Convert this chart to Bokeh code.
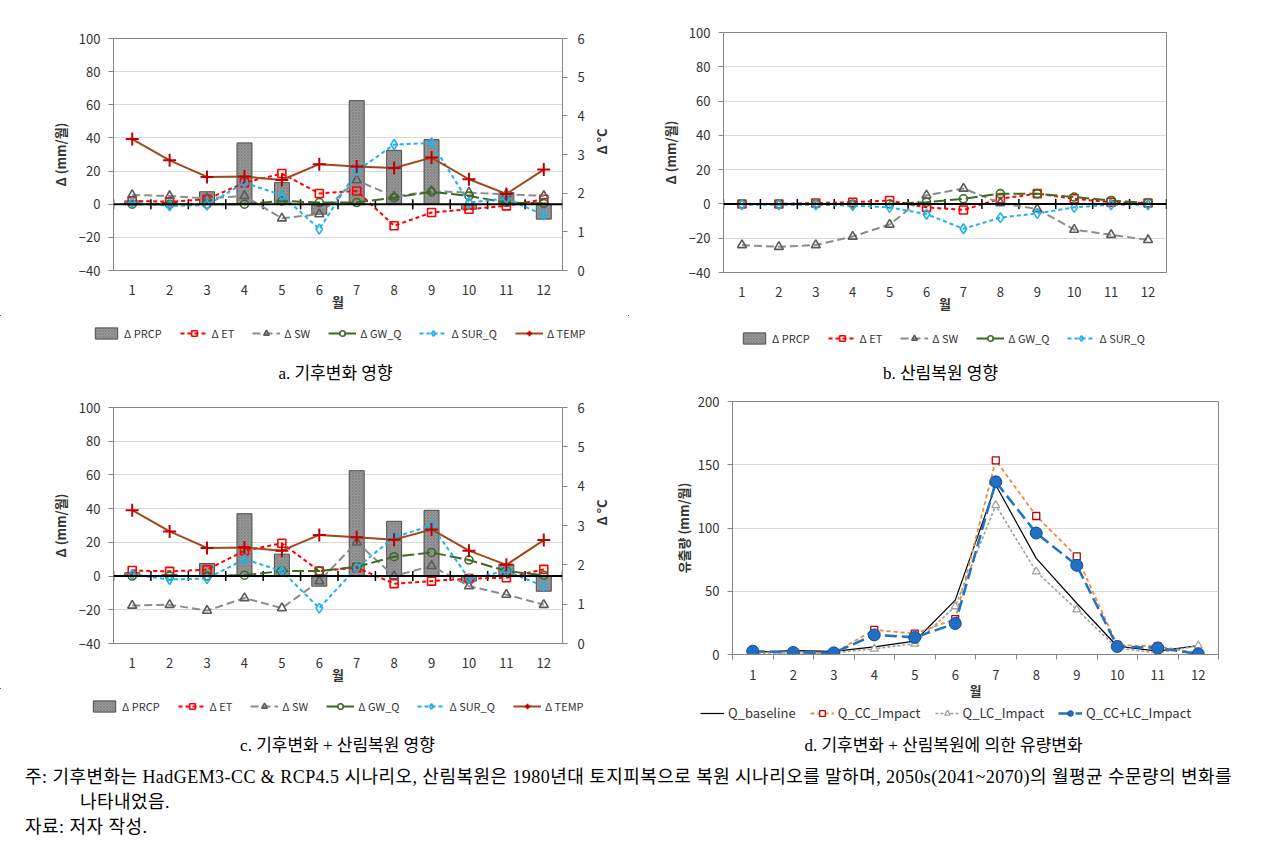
import numpy as np
from bokeh.plotting import figure
from bokeh.models import (Range1d, LinearAxis, Legend, LegendItem, Span, Label,
                          FixedTicker, SingleIntervalTicker, Div)
from bokeh.layouts import column, row
from bokeh.embed import file_html
from bokeh.resources import INLINE

# ---------------- data ----------------
months = [1, 2, 3, 4, 5, 6, 7, 8, 9, 10, 11, 12]

# a. climate change impact
prcp_a = [2, 1, 7.5, 37, 13, -6, 62.5, 32.5, 39, -3, 7, -9]
et_a = [2, 1.5, 3, 13, 18.5, 6.5, 8, -13, -5, -3, -1, 3]
sw_a = [5.5, 5, 3.5, 5, -8.5, -6, 14.5, 4.5, 8, 7, 6, 5]
gw_a = [0, 0, 0, 0, 2, 1, 1, 4, 7.5, 5, 1, 0.5]
sur_a = [1, -1, -0.5, 13, 5.5, -15, 20, 36, 37, 1, 3.5, -6.5]
temp_a = [3.40, 2.85, 2.42, 2.43, 2.34, 2.75, 2.69, 2.65, 2.92, 2.36, 1.98, 2.61]

# b. forest restoration impact
prcp_b = [0, 0, 0, 0, 0, 0, 0, 0, 0, 0, 0, 0]
et_b = [0, 0, 0.5, 1, 2, -2, -3.5, 3, 6, 3, 1, 0.5]
sw_b = [-24, -25, -24, -19, -12, 5, 9, 0.5, -3, -15, -18, -21]
gw_b = [0, 0, 0, 0, 0, 1, 3, 6, 6, 4, 2, 0.5]
sur_b = [-0.5, -0.5, -0.5, -1, -2, -6, -14.5, -8, -5.5, -2, -0.5, -0.5]

# c. climate change + forest restoration
prcp_c = [2, 1, 7.5, 37, 13, -6, 62.5, 32.5, 39, -3, 7, -9]
et_c = [3.3, 2.8, 3.8, 15, 19.5, 3, 5, -4.5, -3, -1.5, -1, 4]
sw_c = [-17.5, -17, -20.5, -13, -19, -3, 20, 0, 6, -6, -11, -17]
gw_c = [0, 0, 0, 0.5, 3, 3, 5.5, 11.5, 14, 9.5, 3, 0.5]
sur_c = [1, -2, -1.5, 10, 3, -19, 5, 23, 30, -1.5, 3, -6]
temp_c = [3.39, 2.85, 2.43, 2.44, 2.36, 2.76, 2.70, 2.64, 2.90, 2.36, 2.00, 2.63]

# d. runoff
q_base = [1.8, 3, 2.5, 6, 10.5, 43, 134, 76, 40.5, 6.5, 2.6, 7]
q_cc = [2, 1.3, 1.3, 19.5, 16.5, 28, 153.5, 109.5, 77.5, 7.5, 6.5, 1]
q_lc = [1, 1.3, 1.3, 4.5, 8.5, 38, 118, 65.5, 35.5, 5, 1.3, 7]
q_cclc = [2.6, 1.6, 1.3, 15.5, 13.5, 24.5, 136.5, 96, 70.5, 6.3, 5.2, 0.5]

hydro_labels = ["Δ PRCP", "Δ ET", "Δ SW", "Δ GW_Q", "Δ SUR_Q", "Δ TEMP"]
q_labels = ["Q_baseline", "Q_CC_Impact", "Q_LC_Impact", "Q_CC+LC_Impact"]

cap_a = "a. 기후변화 영향"
cap_b = "b. 산림복원 영향"
cap_c = "c. 기후변화 + 산림복원 영향"
cap_d = "d. 기후변화 + 산림복원에 의한 유량변화"

SANS = "Noto Sans CJK KR"
SERIF = "'Liberation Serif', 'Noto Sans CJK KR'"
AXC = "#868686"
TXT = "#333333"
STRIP_OFF = 5000  # legend strips view [OFF, OFF+w] x [OFF, OFF+h]; proxy glyphs stay out of view

BAR_STYLE = dict(fill_color="#999999", line_color="#4d4d4d", line_width=1,
                 hatch_pattern="diagonal_cross", hatch_color="#666666",
                 hatch_scale=3, hatch_weight=0.6, hatch_alpha=0.6)
HYDRO_STYLES = [
    (dict(line_color="#ff0000", line_width=2, line_dash="4 3"),
     dict(marker="square", size=8, line_color="#ff0000", fill_color=None, line_width=1.6)),
    (dict(line_color="#8c8c8c", line_width=2, line_dash="8 4"),
     dict(marker="triangle", size=9, line_color="#5a5a5a", fill_color=None, line_width=1.6)),
    (dict(line_color="#3d6b22", line_width=2, line_dash="12 4"),
     dict(marker="circle", size=8, line_color="#3d6b22", fill_color=None, line_width=1.6)),
    (dict(line_color="#1fb2ea", line_width=2, line_dash="4 3"),
     dict(marker="diamond", size=10, line_color="#1fb2ea", fill_color=None, line_width=1.6)),
]
TEMP_STYLE = (dict(line_color="#a0481a", line_width=2),
              dict(marker="cross", size=13, line_color="#c00000", line_width=2))
Q_STYLES = [
    (dict(line_color="black", line_width=1.2), None),
    (dict(line_color="#ef8a3c", line_width=1.8, line_dash="4 3"),
     dict(marker="square", size=7, line_color="#c00000", fill_color="white", line_width=1.3)),
    (dict(line_color="#a0a0a0", line_width=1.6, line_dash="3 2"),
     dict(marker="triangle", size=8, line_color="#a0a0a0", fill_color="white", line_width=1.3)),
    (dict(line_color="#1f72c4", line_width=2.5, line_dash="12 5"),
     dict(marker="circle", size=12, line_color="#1a4f8a", fill_color="#1f6fc5", line_width=1)),
]


def draw(p, x, y, style, **kw):
    ls, ms = style
    rs = [p.line(x, y, **ls, **kw)]
    if ms is not None:
        rs.append(p.scatter(x, y, **ms, **kw))
    return rs


def base_fig(w, h, bl, br, bt, bb, y0, y1, step):
    p = figure(width=w, height=h, min_border_left=bl, min_border_right=br,
               min_border_top=bt, min_border_bottom=bb,
               x_range=Range1d(0.5, 12.5), y_range=Range1d(y0, y1),
               output_backend="svg", toolbar_location=None)
    p.outline_line_color = AXC
    p.background_fill_color = "white"
    p.border_fill_color = "white"
    p.xgrid.visible = False
    tk = SingleIntervalTicker(interval=step)
    ya = p.yaxis[0]
    ya.ticker = tk
    p.ygrid.ticker = tk
    p.ygrid.grid_line_color = "#d9d9d9"
    ya.axis_line_color = AXC
    ya.major_tick_line_color = AXC
    ya.major_tick_out = 5
    ya.major_tick_in = 0
    ya.minor_tick_line_color = None
    ya.major_label_text_font = SANS
    ya.major_label_text_font_size = "13px"
    ya.major_label_text_color = TXT
    ya.major_label_standoff = 8
    ya.axis_label_text_font = SANS
    ya.axis_label_text_font_size = "13px"
    ya.axis_label_text_font_style = "bold"
    ya.axis_label_text_color = TXT
    xa = p.xaxis[0]
    xa.ticker = FixedTicker(ticks=months)
    xa.major_label_text_font = SANS
    xa.major_label_text_font_size = "13px"
    xa.major_label_text_color = TXT
    xa.minor_tick_line_color = None
    xa.axis_label = "월"
    xa.axis_label_text_font = SANS
    xa.axis_label_text_font_size = "13px"
    xa.axis_label_text_font_style = "bold"
    xa.axis_label_text_color = TXT
    return p


def legend_fig(w, h, item_makers, leg_loc, font_size, glyph_w, spacing, caption, cap_xy):
    """Strip below a chart holding its legend and caption."""
    p = figure(width=w, height=h, x_range=Range1d(STRIP_OFF, STRIP_OFF + w),
               y_range=Range1d(STRIP_OFF + h, STRIP_OFF),
               min_border=0, x_axis_location=None, y_axis_location=None,
               output_backend="svg", toolbar_location=None)
    p.outline_line_color = None
    p.grid.visible = False
    p.background_fill_color = "white"
    p.border_fill_color = "white"
    items = [LegendItem(label=lab, renderers=mk(p)) for lab, mk in item_makers]
    p.add_layout(Legend(items=items, orientation="horizontal", location=leg_loc,
                        border_line_color=None, background_fill_alpha=0,
                        label_text_font=SANS, label_text_font_size=font_size,
                        label_text_color=TXT, glyph_width=glyph_w, glyph_height=14,
                        label_height=16, spacing=spacing, label_standoff=4,
                        padding=2, margin=0))
    p.add_layout(Label(x=STRIP_OFF + cap_xy[0], y=STRIP_OFF + cap_xy[1], text=caption,
                       text_align="center", text_baseline="middle", text_font=SERIF,
                       text_font_size="17px", text_color="black"))
    return p


def hydro_panel(dims, prcp, et, sw, gw, sur, temp):
    w, h, bl, br, bt, bb = dims
    p = base_fig(w, h, bl, br, bt, bb, -40, 100, 20)
    p.yaxis[0].axis_label = "Δ (mm/월)"
    p.yaxis[0].axis_label_standoff = 6
    xa = p.xaxis[0]
    xa.axis_line_color = None
    xa.major_tick_out = 0
    xa.major_tick_in = 0
    xa.major_label_standoff = 14
    xa.axis_label_standoff = -6

    p.vbar(x=months, top=prcp, bottom=0, width=0.4, **BAR_STYLE)
    p.add_layout(Span(location=0, dimension="width", line_color="black", line_width=2))
    bounds = [m - 0.5 for m in months] + [months[-1] + 0.5]
    p.scatter(x=bounds, y=[0] * len(bounds), marker="dash", angle=np.pi / 2, size=10,
              line_color="black", line_width=1.5)
    for ys, st in zip([et, sw, gw, sur], HYDRO_STYLES):
        draw(p, months, ys, st)

    if temp is not None:
        p.extra_y_ranges = {"temp": Range1d(0, 6)}
        ra = LinearAxis(y_range_name="temp", ticker=SingleIntervalTicker(interval=1))
        ra.axis_line_color = AXC
        ra.major_tick_line_color = AXC
        ra.major_tick_out = 5
        ra.major_tick_in = 0
        ra.minor_tick_line_color = None
        ra.major_label_text_font = SANS
        ra.major_label_text_font_size = "13px"
        ra.major_label_text_color = TXT
        ra.major_label_standoff = 10
        ra.axis_label = "Δ °C"
        ra.axis_label_text_font = SANS
        ra.axis_label_text_font_size = "13px"
        ra.axis_label_text_font_style = "bold"
        ra.axis_label_text_color = TXT
        ra.axis_label_standoff = 14
        if "axis_label_orientation" in ra.properties():
            ra.axis_label_orientation = np.pi / 2
        p.add_layout(ra, "right")
        draw(p, months, temp, TEMP_STYLE, y_range_name="temp")
    return p


def hydro_items(prcp, et, sw, gw, sur, temp):
    makers = [(hydro_labels[0],
               lambda q: [q.vbar(x=months, top=prcp, bottom=0, width=0.4, **BAR_STYLE)])]
    for lab, ys, st in zip(hydro_labels[1:5], [et, sw, gw, sur], HYDRO_STYLES):
        makers.append((lab, lambda q, ys=ys, st=st: draw(q, months, ys, st)))
    if temp is not None:
        makers.append((hydro_labels[5], lambda q: draw(q, months, temp, TEMP_STYLE)))
    return makers


pa = hydro_panel((628, 315, 113, 66, 38, 45), prcp_a, et_a, sw_a, gw_a, sur_a, temp_a)
la = legend_fig(628, 78, hydro_items(prcp_a, et_a, sw_a, gw_a, sur_a, temp_a),
                (92, 52), "11px", 28, 18, cap_a, (335, 58))
pb = hydro_panel((622, 315, 95, 84, 32, 41), prcp_b, et_b, sw_b, gw_b, sur_b, None)
lb = legend_fig(622, 78, hydro_items(prcp_b, et_b, sw_b, gw_b, sur_b, None),
                (112, 47), "11px", 28, 18, cap_b, (312, 58))
pc = hydro_panel((628, 295, 113, 66, 14, 45), prcp_c, et_c, sw_c, gw_c, sur_c, temp_c)
lc = legend_fig(628, 72, hydro_items(prcp_c, et_c, sw_c, gw_c, sur_c, temp_c),
                (90, 46), "11px", 28, 18, cap_c, (337, 57))

# ---- panel d ----
pd_ = base_fig(622, 309, 104, 32, 8, 47, 0, 200, 50)
ya = pd_.yaxis[0]
ya.axis_label = "유출량 (mm/월)"
ya.axis_label_standoff = 2
xa = pd_.xaxis[0]
bounds_d = [m - 0.5 for m in months] + [months[-1] + 0.5]
xa.ticker = FixedTicker(ticks=months, minor_ticks=bounds_d)
xa.axis_line_color = AXC
xa.major_tick_out = 0
xa.major_tick_in = 0
xa.minor_tick_line_color = AXC
xa.minor_tick_out = 5
xa.minor_tick_in = 0
xa.major_label_standoff = 10
xa.axis_label_standoff = -2
q_series = [q_base, q_cc, q_lc, q_cclc]
for ys, st in zip(q_series, Q_STYLES):
    draw(pd_, months, ys, st)
q_makers = [(lab, lambda q, ys=ys, st=st: draw(q, months, ys, st))
            for lab, ys, st in zip(q_labels, q_series, Q_STYLES)]
ld = legend_fig(622, 58, q_makers, (72, 38), "13px", 24, 14, cap_d, (315, 43))

note = Div(text=(
    "<div style='white-space:nowrap;padding-left:20px'>주: 기후변화는 HadGEM3-CC &amp; RCP4.5 시나리오, "
    "산림복원은 1980년대 토지피복으로 복원 시나리오를 말하며, 2050s(2041~2070)의 월평균 수문량의 변화를</div>"
    "<div style='white-space:nowrap;padding-left:75px'>나타내었음.</div>"
    "<div style='white-space:nowrap;padding-left:20px'>자료: 저자 작성.</div>"),
    width=1250, height=75,
    styles={"font-family": "'Liberation Serif', 'Noto Sans CJK KR'", "font-size": "18px",
            "letter-spacing": "0.45px", "line-height": "25px", "color": "black"})

left = column(row(pa), row(la), row(pc), row(lc))
right = column(row(pb), row(lb), row(pd_), row(ld))
layout = column(row(left, right), note)
open("out.html", "w").write(file_html(layout, INLINE))
